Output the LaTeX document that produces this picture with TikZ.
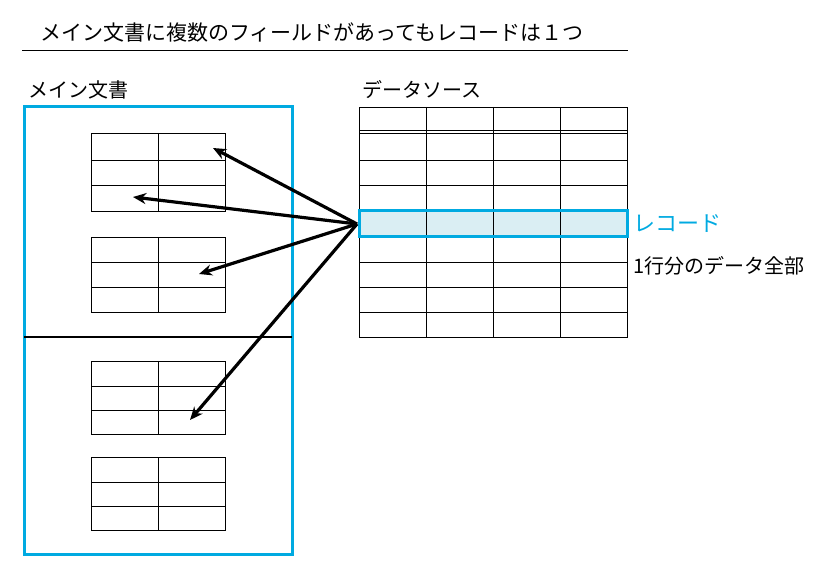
\documentclass[tikz,border=0pt]{standalone}
\usepackage{fontspec}
\setmainfont{Noto Sans CJK JP}
\usetikzlibrary{arrows.meta}
\definecolor{cyanb}{RGB}{0,170,225}
\definecolor{lightb}{RGB}{218,238,243}
\tikzset{
  grid/.style={draw=black,line width=0.8pt},
  arr/.style={-{Stealth[length=13pt,width=11pt]},line width=3.2pt},
  lbl/.style={anchor=west,inner sep=0pt,font=\fontsize{20}{24}\selectfont}
}
\begin{document}
\begin{tikzpicture}[x=1pt,y=-1pt]
\useasboundingbox (0,0) rectangle (817,577);
\node[lbl,font=\fontsize{21}{24}\selectfont] (title) at (40,32) {メイン文書に複数のフィールドがあってもレコードは１つ};
\draw[line width=0.8pt] (22,50) -- (628,50);
\node[lbl] (mainlbl) at (28,90) {メイン文書};
\node[lbl] (dslbl) at (362,90) {データソース};
% main document
\draw[cyanb,line width=3pt] (24,107) rectangle (292,554);
\draw[line width=1.3pt] (24,337) -- (292,337);
\foreach \a/\b/\c/\d in {133/160/185/211,237/262/287/312,361/386/410/434,457/482/506/530}{
  \draw[grid] (91,\a) rectangle (225,\d);
  \draw[grid] (91,\b) -- (225,\b) (91,\c) -- (225,\c) (158,\a) -- (158,\d);
}
% data source
\fill[lightb] (359,211) rectangle (627,237);
\draw[grid] (359,107) rectangle (627,337);
\foreach \y in {130,133,160,185,211,237,262,287,312}{\draw[grid] (359,\y) -- (627,\y);}
\foreach \x in {426,493,560}{\draw[grid] (\x,107) -- (\x,337);}
\draw[cyanb,line width=3pt] (359,211) rectangle (627,237);
\node[lbl,text=cyanb,font=\fontsize{22}{24}\selectfont] (rec) at (633,224) {レコード};
\node[lbl] (desc) at (633,266) {1行分のデータ全部};
\coordinate (src) at (357,224);
\coordinate (t1) at (213,148);
\coordinate (t2) at (133,197);
\coordinate (t3) at (199,274);
\coordinate (t4) at (190,420);
\foreach \t in {t1,t2,t3,t4}{\draw[arr] (src) -- (\t);}
\end{tikzpicture}
\end{document}
